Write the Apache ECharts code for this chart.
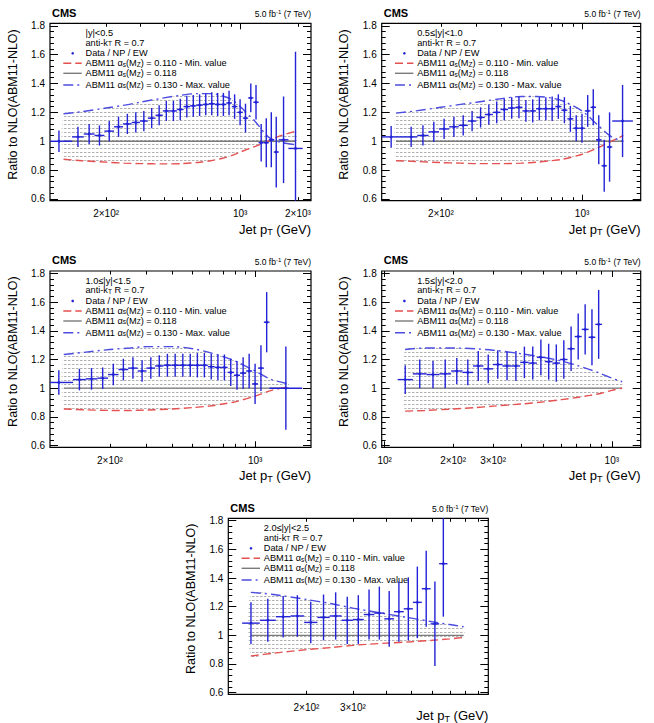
<!DOCTYPE html>
<html><head><meta charset="utf-8">
<script src="https://cdn.jsdelivr.net/npm/echarts@6/dist/echarts.min.js"></script>
<style>html,body{margin:0;padding:0;background:#fff}#c{width:654px;height:723px}</style>
</head><body><div id="c"></div>
<script>
// ================= DATA =================
const rapidityLabels = ['|y|<0.5', '0.5≤|y|<1.0', '1.0≤|y|<1.5', '1.5≤|y|<2.0', '2.0≤|y|<2.5'];
const legendTexts = ['Data / NP / EW',
  'ABM11 α{sub|s}(M{sub|Z}) = 0.110 - Min. value',
  'ABM11 α{sub|s}(M{sub|Z}) = 0.118',
  'ABM11 α{sub|s}(M{sub|Z}) = 0.130 - Max. value'];

// |y|<0.5
const p1Edges = [97,133,153,174,196,220,245,272,300,330,362,395,430,468,507,548,592,638,686,737,790,846,905,967,1032,1101,1172,1248,1327,1410,1497,1588,1784,2116];
const p1Values = [1.00,1.03,1.05,1.04,1.07,1.10,1.12,1.13,1.14,1.16,1.18,1.21,1.21,1.22,1.24,1.245,1.25,1.255,1.26,1.255,1.255,1.265,1.24,1.20,1.16,1.30,1.27,0.99,0.99,1.01,0.925,1.01,0.95];
const p1ErrUp = [0.075,0.07,0.07,0.07,0.07,0.07,0.07,0.07,0.07,0.07,0.07,0.07,0.07,0.075,0.075,0.075,0.075,0.075,0.08,0.08,0.08,0.085,0.085,0.09,0.1,0.1,0.12,0.13,0.17,0.19,0.245,0.3,0.67];
const p1ErrDn = [0.075,0.07,0.07,0.07,0.07,0.07,0.07,0.07,0.07,0.07,0.07,0.07,0.07,0.075,0.075,0.075,0.075,0.075,0.08,0.08,0.08,0.085,0.085,0.09,0.1,0.1,0.12,0.13,0.17,0.19,0.245,0.3,0.40];
const p1TheoryPt = [120,150,200,250,300,400,500,600,700,800,900,1000,1200,1400,1600,1950];
const p1Min = [0.875,0.865,0.855,0.848,0.845,0.843,0.845,0.853,0.865,0.88,0.9,0.925,0.965,1.0,1.035,1.07];
const p1Max = [1.19,1.205,1.23,1.25,1.27,1.30,1.32,1.33,1.33,1.315,1.29,1.24,1.135,1.03,0.995,0.975];
const p1XLabels = [200, 1000, 2000];

// 0.5<=|y|<1.0
const p2Edges = [97,133,153,174,196,220,245,272,300,330,362,395,430,468,507,548,592,638,686,737,790,846,905,967,1032,1101,1172,1248,1327,1410,1784];
const p2Values = [1.03,1.03,1.04,1.065,1.085,1.10,1.11,1.14,1.165,1.185,1.20,1.22,1.23,1.235,1.21,1.21,1.225,1.225,1.225,1.24,1.215,1.155,1.09,1.09,1.21,1.235,1.01,0.83,0.96,1.14];
const p2ErrUp = [0.075,0.07,0.07,0.07,0.07,0.07,0.07,0.07,0.07,0.07,0.075,0.075,0.075,0.075,0.075,0.08,0.08,0.08,0.085,0.085,0.09,0.09,0.09,0.1,0.11,0.125,0.17,0.18,0.24,0.25];
const p2ErrDn = p2ErrUp;
const p2TheoryPt = [120,150,200,250,300,400,500,600,700,800,1000,1200,1400,1600];
const p2Min = [0.865,0.86,0.852,0.848,0.845,0.845,0.848,0.855,0.865,0.875,0.91,0.955,1.0,1.04];
const p2Max = [1.195,1.21,1.235,1.255,1.27,1.295,1.31,1.31,1.30,1.28,1.21,1.11,1.03,1.0];
const p2XLabels = [200, 1000];

// 1.0<=|y|<1.5
const p3Edges = [97,133,153,174,196,220,245,272,300,330,362,395,430,468,507,548,592,638,686,737,790,846,905,967,1032,1101,1172,1684];
const p3Values = [1.04,1.06,1.065,1.07,1.095,1.13,1.14,1.12,1.14,1.155,1.16,1.16,1.16,1.16,1.16,1.16,1.15,1.145,1.145,1.11,1.09,1.105,1.12,1.03,1.14,1.46,1.00];
const p3ErrUp = [0.085,0.075,0.075,0.075,0.075,0.075,0.075,0.075,0.075,0.075,0.08,0.08,0.08,0.08,0.085,0.085,0.09,0.09,0.09,0.095,0.1,0.11,0.12,0.14,0.16,0.21,0.29];
const p3ErrDn = p3ErrUp;
const p3TheoryPt = [120,150,200,250,300,400,500,600,700,800,1000,1200,1450];
const p3Min = [0.855,0.85,0.845,0.845,0.848,0.855,0.865,0.875,0.89,0.905,0.945,0.985,1.01];
const p3Max = [1.235,1.25,1.27,1.28,1.29,1.29,1.275,1.25,1.22,1.19,1.12,1.06,1.03];
const p3XLabels = [200, 1000];

// 1.5<=|y|<2.0
const p4Edges = [114,133,153,174,196,220,245,272,300,330,362,395,430,468,507,548,592,638,686,737,790,846,905];
const p4Values = [1.06,1.10,1.095,1.10,1.12,1.11,1.155,1.135,1.165,1.155,1.155,1.18,1.175,1.215,1.185,1.175,1.20,1.275,1.36,1.41,1.355,1.445];
const p4ErrUp = [0.1,0.1,0.095,0.1,0.09,0.09,0.105,0.1,0.1,0.1,0.105,0.11,0.115,0.125,0.125,0.13,0.135,0.155,0.16,0.175,0.195,0.24];
const p4ErrDn = p4ErrUp;
const p4TheoryPt = [123,150,200,250,300,400,500,600,700,800,900,1000,1110];
const p4Min = [0.84,0.845,0.855,0.865,0.875,0.89,0.905,0.92,0.935,0.95,0.965,0.985,1.0];
const p4Max = [1.27,1.28,1.28,1.275,1.265,1.24,1.215,1.19,1.16,1.13,1.10,1.07,1.045];
const p4XLabels = [100, 200, 300, 1000];

// 2.0<=|y|<2.5
const p5Edges = [114,133,153,174,196,220,245,272,300,330,362,395,430,468,507,548,592,638,686];
const p5Values = [1.085,1.105,1.13,1.135,1.09,1.125,1.135,1.105,1.11,1.145,1.155,1.115,1.165,1.185,1.23,1.325,1.08,1.50];
const p5ErrUp = [0.145,0.15,0.145,0.145,0.145,0.16,0.165,0.165,0.17,0.175,0.185,0.195,0.21,0.22,0.25,0.265,0.295,0.37];
const p5ErrDn = p5ErrUp;
const p5TheoryPt = [123,150,200,250,300,400,500,600,700,790];
const p5Min = [0.855,0.875,0.9,0.915,0.93,0.945,0.955,0.965,0.975,0.985];
const p5Max = [1.30,1.285,1.25,1.22,1.19,1.15,1.12,1.095,1.075,1.06];
const p5XLabels = [200, 300];

const refRatio = 1.0; // alpha_s = 0.118 reference

const yLabelValues = [0.6, 0.8, 1.0, 1.2, 1.4, 1.6, 1.8];
const xMajorTickValues = [100, 1000];
const xMinorTickValues = [200, 300, 400, 500, 600, 700, 800, 900, 2000];
const xLabelText = {100: '10²', 200: '2×10²', 300: '3×10²', 1000: '10³', 2000: '2×10³'};

// ================= LAYOUT / STYLE =================
const FONT = '"Liberation Sans", Arial, Helvetica, sans-serif';
const DATA_COLOR = '#2222d6';
const RED = '#e55050';
const BLUE = '#4c4ce0';
const GRAY = '#7a7a7a';
const Y_MIN = 0.588, Y_MAX = 1.817;
const yMinorValues = [];
for (let k = 0; k <= 30; k++) yMinorValues.push(+(0.6 + 0.04 * k).toFixed(2));

const panels = [
  {label: rapidityLabels[0], edges: p1Edges, values: p1Values, up: p1ErrUp, dn: p1ErrDn, pt: p1TheoryPt, tmin: p1Min, tmax: p1Max, xl: p1XLabels, xMin: 102, xMax: 2340, titlePad: 21, box: {l: 50, t: 23.3, w: 261, h: 177.4}},
  {label: rapidityLabels[1], edges: p2Edges, values: p2Values, up: p2ErrUp, dn: p2ErrDn, pt: p2TheoryPt, tmin: p2Min, tmax: p2Max, xl: p2XLabels, xMin: 102, xMax: 1950, titlePad: 21, box: {l: 381.7, t: 23.3, w: 259, h: 177.4}},
  {label: rapidityLabels[2], edges: p3Edges, values: p3Values, up: p3ErrUp, dn: p3ErrDn, pt: p3TheoryPt, tmin: p3Min, tmax: p3Max, xl: p3XLabels, xMin: 103, xMax: 1856, titlePad: 21, box: {l: 50, t: 271, w: 261, h: 176.3}},
  {label: rapidityLabels[3], edges: p4Edges, values: p4Values, up: p4ErrUp, dn: p4ErrDn, pt: p4TheoryPt, tmin: p4Min, tmax: p4Max, xl: p4XLabels, xMin: 97, xMax: 1340, titlePad: 21, box: {l: 381.7, t: 271, w: 259, h: 176.3}},
  {label: rapidityLabels[4], edges: p5Edges, values: p5Values, up: p5ErrUp, dn: p5ErrDn, pt: p5TheoryPt, tmin: p5Min, tmax: p5Max, xl: p5XLabels, xMin: 101, xMax: 980, titlePad: 14, box: {l: 228.3, t: 518.3, w: 260, h: 176}}
];

// hatch pattern standing for the family of intermediate alpha_s curves
const pc = document.createElement('canvas');
pc.width = 4; pc.height = 4;
const pctx = pc.getContext('2d');
pctx.fillStyle = 'rgba(150,150,150,0.75)';
pctx.fillRect(0, 0, 2.5, 1);
const hatch = {image: pc.toDataURL(), repeat: 'repeat'};

const clamp = (v, a, b) => Math.max(a, Math.min(b, v));

const grids = [], xAxes = [], yAxes = [], series = [], graphics = [];
const tickLine = {color: '#000', width: 1};

panels.forEach((p, i) => {
  const b = p.box;
  grids.push({left: b.l, top: b.t, width: b.w, height: b.h, show: true, borderColor: '#000', borderWidth: 1.2, backgroundColor: 'transparent', outerBoundsMode: 'none', containLabel: false});
  const xb = {gridIndex: i, type: 'log', logBase: 10, min: p.xMin, max: p.xMax, splitLine: {show: false}, axisLine: {show: false}, minorTick: {show: false}};
  xAxes.push(Object.assign({}, xb, {
    position: 'bottom',
    axisLabel: {show: true, customValues: p.xl, margin: 8, fontSize: 10, fontFamily: FONT, color: '#000',
      formatter: v => xLabelText[Math.round(v)] || ''},
    axisTick: {show: true, inside: true, length: 6, customValues: xMajorTickValues, lineStyle: tickLine},
    name: 'Jet p{sub|T} (GeV)', nameLocation: 'end', nameGap: 0,
    nameTextStyle: {fontSize: 13, fontFamily: FONT, color: '#000', align: 'right', verticalAlign: 'top', padding: [p.titlePad, 0, 0, 0],
      rich: {sub: {fontSize: 9, fontFamily: FONT, color: '#000', verticalAlign: 'bottom', padding: [6, 0, 0, 0]}}}
  }));
  xAxes.push(Object.assign({}, xb, {position: 'bottom', axisLabel: {show: false},
    axisTick: {show: true, inside: true, length: 3.5, customValues: xMinorTickValues, lineStyle: tickLine}}));
  xAxes.push(Object.assign({}, xb, {position: 'top', axisLabel: {show: false},
    axisTick: {show: true, inside: true, length: 6, customValues: xMajorTickValues, lineStyle: tickLine}}));
  xAxes.push(Object.assign({}, xb, {position: 'top', axisLabel: {show: false},
    axisTick: {show: true, inside: true, length: 3.5, customValues: xMinorTickValues, lineStyle: tickLine}}));

  const yb = {gridIndex: i, type: 'value', min: Y_MIN, max: Y_MAX, splitLine: {show: false}, axisLine: {show: false}};
  yAxes.push(Object.assign({}, yb, {
    position: 'left',
    axisLabel: {show: true, customValues: yLabelValues, margin: 5, fontSize: 10, fontFamily: FONT, color: '#000',
      formatter: v => String(Math.round(v * 10) / 10)},
    axisTick: {show: true, inside: true, length: 8, customValues: yLabelValues, lineStyle: tickLine},
    name: 'Ratio to NLO(ABM11-NLO)', nameLocation: 'middle', nameGap: 31,
    nameTextStyle: {fontSize: 12.5, fontFamily: FONT, color: '#000', padding: [0, 0, 0, 15]}
  }));
  yAxes.push(Object.assign({}, yb, {position: 'left', axisLabel: {show: false},
    axisTick: {show: true, inside: true, length: 4, customValues: yMinorValues, lineStyle: tickLine}}));
  yAxes.push(Object.assign({}, yb, {position: 'right', axisLabel: {show: false},
    axisTick: {show: true, inside: true, length: 8, customValues: yLabelValues, lineStyle: tickLine}}));
  yAxes.push(Object.assign({}, yb, {position: 'right', axisLabel: {show: false},
    axisTick: {show: true, inside: true, length: 4, customValues: yMinorValues, lineStyle: tickLine}}));

  const xi = 4 * i, yi = 4 * i;
  series.push({
    type: 'custom', xAxisIndex: xi, yAxisIndex: yi, z: 1, silent: true,
    data: p.pt.map((x, k) => [x, p.tmin[k], p.tmax[k]]),
    renderItem: (params, api) => {
      if (params.dataIndex !== 0) return null;
      const pts = [];
      p.pt.forEach((x, k) => pts.push(api.coord([x, p.tmin[k]])));
      for (let k = p.pt.length - 1; k >= 0; k--) pts.push(api.coord([p.pt[k], p.tmax[k]]));
      return {type: 'polygon', shape: {points: pts, smooth: 0.2}, style: {fill: hatch, stroke: null}};
    }
  });
  series.push({type: 'line', xAxisIndex: xi, yAxisIndex: yi, z: 2, symbol: 'none', silent: true,
    data: [[p.pt[0], refRatio], [p.pt[p.pt.length - 1], refRatio]],
    lineStyle: {color: GRAY, width: 1.3}});
  series.push({type: 'line', xAxisIndex: xi, yAxisIndex: yi, z: 3, symbol: 'none', smooth: 0.3, silent: true,
    data: p.pt.map((x, k) => [x, p.tmin[k]]),
    lineStyle: {color: RED, width: 1.4, type: [8, 4]}});
  series.push({type: 'line', xAxisIndex: xi, yAxisIndex: yi, z: 3, symbol: 'none', smooth: 0.3, silent: true,
    data: p.pt.map((x, k) => [x, p.tmax[k]]),
    lineStyle: {color: BLUE, width: 1.4, type: [10, 4, 2, 4]}});
  series.push({
    type: 'custom', xAxisIndex: xi, yAxisIndex: yi, z: 5, silent: true,
    data: p.values.map((v, k) => [Math.sqrt(p.edges[k] * p.edges[k + 1]), v, p.edges[k], p.edges[k + 1], v - p.dn[k], v + p.up[k]]),
    renderItem: (params, api) => {
      const xc = api.value(0), y = api.value(1), xl = api.value(2), xh = api.value(3), yl = api.value(4), yh = api.value(5);
      const ch = [];
      const st = {stroke: DATA_COLOR, lineWidth: 1.4};
      const inY = y >= Y_MIN && y <= Y_MAX;
      if (inY) {
        const a = api.coord([clamp(xl, p.xMin, p.xMax), y]), c = api.coord([clamp(xh, p.xMin, p.xMax), y]);
        ch.push({type: 'line', shape: {x1: a[0], y1: a[1], x2: c[0], y2: c[1]}, style: st});
      }
      const lo = api.coord([xc, clamp(yl, Y_MIN, Y_MAX)]), hi = api.coord([xc, clamp(yh, Y_MIN, Y_MAX)]);
      ch.push({type: 'line', shape: {x1: lo[0], y1: lo[1], x2: hi[0], y2: hi[1]}, style: st});
      if (inY) {
        const m = api.coord([xc, y]);
        ch.push({type: 'circle', shape: {cx: m[0], cy: m[1], r: 1.4}, style: {fill: DATA_COLOR}});
      }
      return {type: 'group', children: ch};
    }
  });

  graphics.push({type: 'text', x: b.l + 2, y: b.t - 10.6, style: {text: 'CMS', fontSize: 11, fontWeight: 'bold', fontFamily: FONT, fill: '#000', align: 'left', verticalAlign: 'middle'}});
  graphics.push({type: 'text', x: b.l + b.w, y: b.t - 9.5, style: {text: '5.0 fb{sup|-1} (7 TeV)', fontSize: 8.5, fontFamily: FONT, fill: '#000', align: 'right', verticalAlign: 'middle',
    rich: {sup: {fontSize: 6, fontFamily: FONT, fill: '#000', verticalAlign: 'top', padding: [0, 0, 4, 0]}}}});
  const tx = b.l + 35.5;
  const legStyle = {fontSize: 9.2, lineHeight: 8.6, fontFamily: FONT, fill: '#000', align: 'left', verticalAlign: 'middle'};
  const subRich = {sub: {fontSize: 6.5, lineHeight: 8.6, fontFamily: FONT, fill: '#000', verticalAlign: 'bottom', padding: [2.5, 0, 0, 0]}};
  graphics.push({type: 'text', x: tx, y: b.t + 10, style: Object.assign({text: p.label}, legStyle)});
  graphics.push({type: 'text', x: tx, y: b.t + 19.4, style: Object.assign({text: 'anti-k{sub|T} R = 0.7', rich: subRich}, legStyle)});
  graphics.push({type: 'circle', shape: {cx: b.l + 22.7, cy: b.t + 30, r: 1.3}, style: {fill: DATA_COLOR}});
  graphics.push({type: 'text', x: tx, y: b.t + 30, style: Object.assign({text: legendTexts[0]}, legStyle)});
  const rows = [[40, RED, [8, 4]], [50, GRAY, null], [61.7, BLUE, [10, 4, 2, 4]]];
  rows.forEach((r, k) => {
    graphics.push({type: 'line', shape: {x1: b.l + 13.3, y1: b.t + r[0], x2: b.l + 31.7, y2: b.t + r[0]}, style: {stroke: r[1], lineWidth: 1.4, lineDash: r[2]}});
    graphics.push({type: 'text', x: tx, y: b.t + r[0], style: Object.assign({text: legendTexts[k + 1], rich: subRich}, legStyle)});
  });
});

const chart = echarts.init(document.getElementById('c'), null, {renderer: 'svg', width: 654, height: 723});
chart.setOption({
  animation: false,
  backgroundColor: '#fff',
  textStyle: {fontFamily: FONT},
  grid: grids, xAxis: xAxes, yAxis: yAxes, series: series, graphic: graphics
});
</script></body></html>
